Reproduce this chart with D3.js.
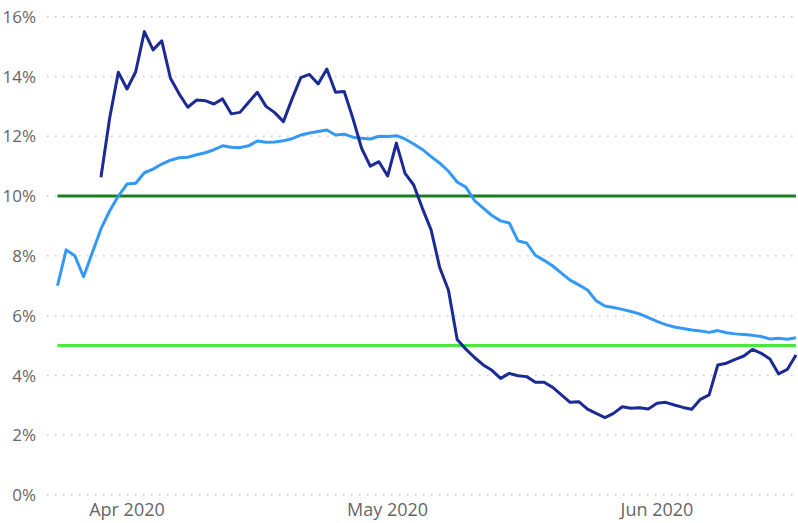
<!DOCTYPE html>
<html>
<head>
<meta charset="utf-8">
<script src="https://cdn.jsdelivr.net/npm/d3@7"></script>
<style>
  html, body { margin: 0; padding: 0; background: #fff; }
  svg { display: block; }
  text { font-family: "Open Sans", "Noto Sans", sans-serif; fill: #666; }
</style>
</head>
<body>
<svg id="chart" width="798" height="523"></svg>
<script>
// ---- data ----
const startDate = "2020-03-24";
const lightSeries = [
  7.0, 8.2, 8.0, 7.3, 8.1, 8.9, 9.5, 10.0, 10.4, 10.43,
  10.78, 10.9, 11.07, 11.2, 11.28, 11.3, 11.38, 11.45, 11.55, 11.68,
  11.63, 11.62, 11.68, 11.84, 11.8, 11.81, 11.85, 11.92, 12.04, 12.11,
  12.16, 12.21, 12.04, 12.07, 11.97, 11.93, 11.91, 12.0, 11.99, 12.02,
  11.91, 11.74, 11.56, 11.32, 11.1, 10.83, 10.47, 10.3, 9.85, 9.6,
  9.35, 9.17, 9.1, 8.5, 8.43, 8.02, 7.85, 7.66, 7.42, 7.19,
  7.03, 6.86, 6.5, 6.32, 6.27, 6.21, 6.14, 6.06, 5.93, 5.81,
  5.7, 5.62, 5.57, 5.52, 5.49, 5.44, 5.5, 5.43, 5.39, 5.37,
  5.34, 5.3, 5.22, 5.24, 5.21, 5.26
];
const darkSeries = [
  null, null, null, null, null, 10.63, 12.6, 14.14, 13.58, 14.16,
  15.5, 14.89, 15.19, 13.94, 13.42, 12.97, 13.21, 13.19, 13.08, 13.25,
  12.75, 12.8, 13.14, 13.47, 13.0, 12.79, 12.49, 13.25, 13.96, 14.07,
  13.75, 14.25, 13.47, 13.5, 12.6, 11.6, 11.0, 11.15, 10.67, 11.77,
  10.76, 10.37, 9.59, 8.87, 7.6, 6.85, 5.2, 4.88, 4.6, 4.35,
  4.17, 3.9, 4.07, 3.99, 3.96, 3.77, 3.77, 3.6, 3.35, 3.1,
  3.12, 2.87, 2.73, 2.59, 2.73, 2.95, 2.9, 2.92, 2.88, 3.07,
  3.1, 3.01, 2.93, 2.87, 3.2, 3.35, 4.35, 4.41, 4.54, 4.65,
  4.87, 4.74, 4.55, 4.05, 4.2, 4.68
];
const refLines = [10, 5];
const refColors = ["#1b7f1f", "#47e83f"];
const yTicks = [0, 2, 4, 6, 8, 10, 12, 14, 16];
const xTickDates = ["2020-04-01", "2020-05-01", "2020-06-01"];
const xTickLabels = ["Apr 2020", "May 2020", "Jun 2020"];

// ---- build ----
const parse = d3.utcParse("%Y-%m-%d");
const d0 = parse(startDate);
const dates = lightSeries.map((_, i) => d3.utcDay.offset(d0, i));
const lightData = lightSeries.map((v, i) => ({ date: dates[i], v }));
const darkData = darkSeries.map((v, i) => ({ date: dates[i], v }));

const svg = d3.select("#chart");
const x = d3.scaleUtc().domain([dates[0], dates[dates.length - 1]]).range([57.5, 796]);
const y = d3.scaleLinear().domain([0, 16]).range([495, 16.7]);

// gridlines
svg.append("g").selectAll("line").data(yTicks).join("line")
  .attr("x1", 47).attr("x2", 798)
  .attr("y1", d => y(d)).attr("y2", d => y(d))
  .attr("stroke", "#c8c8c8").attr("stroke-width", 1.5)
  .attr("stroke-dasharray", "1.5 6.5");

// y labels
svg.append("g").selectAll("text").data(yTicks).join("text")
  .attr("x", 36).attr("y", d => y(d))
  .attr("dy", "0.36em")
  .attr("text-anchor", "end")
  .style("font-size", "17px")
  .text(d => d + "%");

// x labels
svg.append("g").selectAll("text").data(xTickDates).join("text")
  .attr("x", d => x(parse(d)))
  .attr("y", 516)
  .attr("text-anchor", "middle")
  .style("font-size", "18px")
  .text((d, i) => xTickLabels[i]);

// reference lines
svg.append("g").selectAll("line").data(refLines).join("line")
  .attr("x1", x.range()[0]).attr("x2", x.range()[1])
  .attr("y1", d => y(d)).attr("y2", d => y(d))
  .attr("stroke", (d, i) => refColors[i]).attr("stroke-width", 3);

const line = d3.line()
  .defined(d => d.v != null)
  .x(d => x(d.date)).y(d => y(d.v));

svg.append("path").datum(lightData)
  .attr("fill", "none").attr("stroke", "#3399f7")
  .attr("stroke-width", 3).attr("stroke-linejoin", "round")
  .attr("d", line);

svg.append("path").datum(darkData)
  .attr("fill", "none").attr("stroke", "#1c2a94")
  .attr("stroke-width", 3).attr("stroke-linejoin", "round")
  .attr("d", line);
</script>
</body>
</html>
